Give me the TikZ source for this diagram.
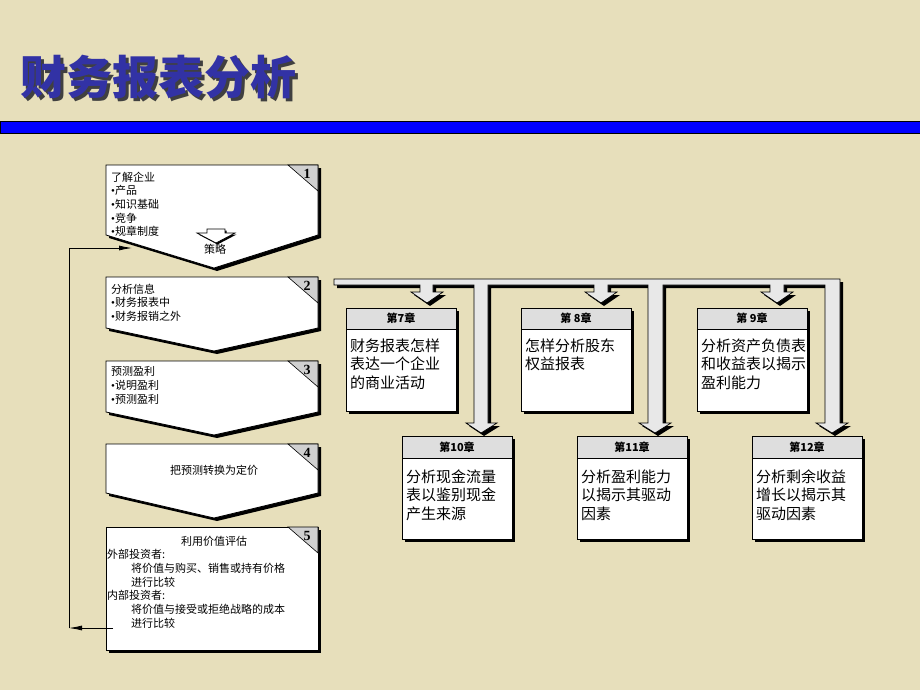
\documentclass[tikz,border=0pt]{standalone}
\usepackage{fontspec}
\setmainfont{Liberation Serif}
\newfontfamily\cjk{Noto Sans CJK SC}
\newfontfamily\bulfont{Liberation Serif}
\newcommand\mybul{{\bulfont •}}
\definecolor{bg}{RGB}{231,223,187}
\definecolor{titleblue}{RGB}{50,50,165}
\definecolor{pipegray}{RGB}{232,232,232}
\definecolor{hdrgray}{RGB}{222,222,222}
\definecolor{taggray}{RGB}{208,208,208}
\tikzset{
  boxline/.style={draw=black, line width=0.8pt, fill=white, line join=miter},
  shadowfill/.style={fill=black},
  tagtri/.style={draw=black, line width=0.6pt, fill=taggray},
  tagnum/.style={font=\bfseries\fontsize{14}{14}\selectfont, inner sep=0pt},
  lefttxt/.style={font=\cjk\fontsize{11}{13.7}\selectfont, align=left, inner sep=0pt, anchor=north west},
  midtxt/.style={font=\cjk\fontsize{11}{13.7}\selectfont, inner sep=0pt},
  hdrtxt/.style={font=\cjk\bfseries\fontsize{11}{13}\selectfont, inner sep=0pt},
  bodytxt/.style={font=\cjk\fontsize{15}{18.5}\selectfont, align=left, inner sep=0pt, anchor=north west},
  fbarrow/.style={draw=black, line width=0.8pt, -{Latex[length=13pt,width=5pt]}},
}
\usetikzlibrary{arrows.meta}
\begin{document}
\begin{tikzpicture}[x=1pt,y=-1pt]
\fill[bg] (0,0) rectangle (920,690);
\useasboundingbox (0,0) rectangle (920,690);
% title with shadow in one node
\node[font=\cjk\bfseries\fontsize{46}{46}\selectfont, inner sep=0pt] (title) at (158,79)
  {\makebox[0pt][l]{\hspace{3pt}\raisebox{-3pt}{\color{black!75}财务报表分析}}\textcolor{titleblue}{财务报表分析}};
% blue bar
\draw[fill={rgb,255:red,0;green,0;blue,255}, draw=black, line width=0.8pt] (0,121) rectangle (920,133);

% left pentagon boxes
\foreach \t/\s/\p/\num in {165/235/268/1, 277/328/351/2, 361/412/435/3, 444/493/518/4}{
  \fill[shadowfill, shift={(3,3)}] (106,\t) -- (318,\t) -- (318,\s) -- (214,\p) -- (106,\s) -- cycle;
  \draw[boxline] (106,\t) -- (318,\t) -- (318,\s) -- (214,\p) -- (106,\s) -- cycle;
  \draw[tagtri] (288,\t) -- (318,\t) -- (318,\t+26) -- cycle;
  \node[tagnum] (num\num) at (307,\t+9) {\num};
}
% box 5
\fill[shadowfill] (109,530) rectangle (321,653);
\draw[boxline] (106,527) rectangle (318,650);
\draw[tagtri] (288,527) -- (318,527) -- (318,553) -- cycle;
\node[tagnum] (num5) at (307,536) {5};

% texts in left boxes
\node[lefttxt] (t1) at (111,171.5) {了解企业\\\mybul 产品\\\mybul 知识基础\\\mybul 竞争\\\mybul 规章制度};
% small hollow arrow
\fill[black] (208.5,230.5) -- (226.5,230.5) -- (226.5,234.5) -- (236.5,234.5) -- (217.5,244.5) -- (198.5,234.5) -- (208.5,234.5) -- cycle;
\draw[boxline, line width=0.7pt] (207,229) -- (225,229) -- (225,233) -- (235,233) -- (216,243) -- (197,233) -- (207,233) -- cycle;
\node[midtxt] (celue) at (215,249) {策略};
\node[lefttxt] (t2) at (111,283.5) {分析信息\\\mybul 财务报表中\\\mybul 财务报销之外};
\node[lefttxt] (t3) at (111,366.5) {预测盈利\\\mybul 说明盈利\\\mybul 预测盈利};
\node[midtxt] (t4) at (214,470) {把预测转换为定价};
\node[midtxt] (t5h) at (214,541) {利用价值评估};
\node[lefttxt] (t5a) at (107,549.5) {外部投资者:};
\node[lefttxt] (t5b) at (131,563) {将价值与购买、销售或持有价格\\进行比较};
\node[lefttxt] (t5c) at (107,590.5) {内部投资者:};
\node[lefttxt] (t5d) at (131,604) {将价值与接受或拒绝战略的成本\\进行比较};

% feedback arrow
\coordinate (fbstart) at (113,628);
\coordinate (fbcorner) at (69,628);
\coordinate (fbend) at (132,248);
\draw[fbarrow] (fbstart) -- (fbcorner);
\draw[fbarrow] (fbcorner) |- (fbend);

% pipe manifold
\def\manifold{(334,279) -- (840,279) -- (840,423) -- (848,423) -- (832,433) -- (816,423) -- (825,423) -- (825,285)
 -- (784,285) -- (784,292) -- (793,292) -- (777,303) -- (761,292) -- (770,292) -- (770,285)
 -- (663,285) -- (663,423) -- (671,423) -- (655,433) -- (639,423) -- (648,423) -- (648,285)
 -- (608,285) -- (608,292) -- (617,292) -- (601,303) -- (585,292) -- (594,292) -- (594,285)
 -- (488,285) -- (488,423) -- (497,423) -- (481,433) -- (466,423) -- (474,423) -- (474,285)
 -- (433,285) -- (433,292) -- (443,292) -- (427,303) -- (411,292) -- (420,292) -- (420,285)
 -- (334,285) -- cycle}
\fill[shadowfill, shift={(3,3)}] \manifold;
\draw[draw=black, line width=0.7pt, fill=pipegray, line join=miter] \manifold;

% chapter boxes
\foreach \n/\x/\y/\hh/\ty/\hd/\body in {
  7/346/308/21/38/第7章/{财务报表怎样\\表达一个企业\\的商业活动},
  8/521/308/21/38/第 8章/{怎样分析股东\\权益报表},
  9/697/308/21/38/第 9章/{分析资产负债表\\和收益表以揭示\\盈利能力},
  10/402/436/22/41/第10章/{分析现金流量\\表以鉴别现金\\产生来源},
  11/577/436/22/41/第11章/{分析盈利能力\\以揭示其驱动\\因素},
  12/752/436/22/41/第12章/{分析剩余收益\\增长以揭示其\\驱动因素}}{
  \fill[shadowfill] (\x+3,\y+3) rectangle ++(110,103);
  \draw[boxline] (\x,\y) rectangle ++(110,103);
  \draw[boxline, fill=hdrgray] (\x,\y) rectangle ++(110,\hh);
  \node[hdrtxt] (hd\n) at (\x+55,\y+\hh/2) {\hd};
  \node[bodytxt] (bd\n) at (\x+4,\y+\ty-7.5) {\body};
}
\end{tikzpicture}
\end{document}
